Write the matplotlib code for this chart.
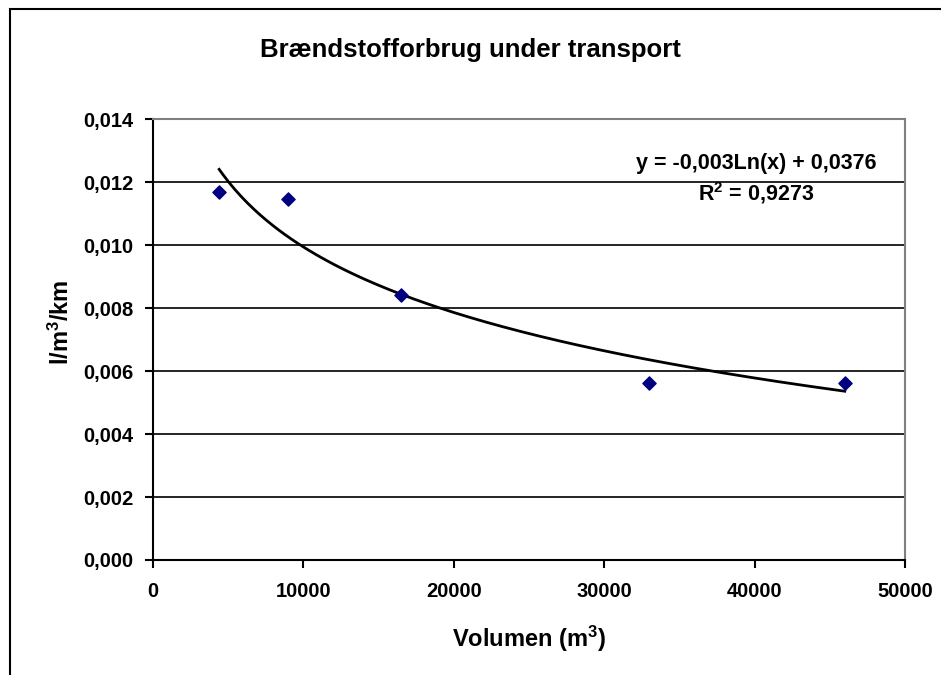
import numpy as np
import matplotlib.pyplot as plt
from matplotlib.patches import Rectangle
from matplotlib.ticker import FuncFormatter, MultipleLocator

# Data
volumen = [4400, 9000, 16500, 33000, 46000]
forbrug = [0.01168, 0.01148, 0.00843, 0.00563, 0.00563]

title = 'Brændstofforbrug under transport'
x_label = 'Volumen (m$^{3}$)'
y_label = 'l/m$^{3}$/km'
eq_label = 'y = -0,003Ln(x) + 0,0376'
r2_label = 'R$^{2}$ = 0,9273'

plt.rcParams['font.family'] = ['Liberation Sans', 'DejaVu Sans']
plt.rcParams['font.weight'] = 'bold'
plt.rcParams['mathtext.default'] = 'regular'

fig = plt.figure(figsize=(9.41, 6.75), dpi=100)
ax = fig.add_axes([0.1626, 0.1704, 0.7991, 0.6526])

# Logarithmic trendline, fitted like Excel does
x = np.array(volumen, dtype=float)
y = np.array(forbrug)
slope, intercept = np.polyfit(np.log(x), y, 1)
xs = np.linspace(x.min(), x.max(), 200)
ax.plot(xs, slope * np.log(xs) + intercept, color='black', lw=2, zorder=3)

ax.scatter(x, y, marker='D', s=45, color='#000080', zorder=4)

ax.set_xlim(0, 50000)
ax.set_ylim(0, 0.014)
ax.xaxis.set_major_locator(MultipleLocator(10000))
ax.yaxis.set_major_locator(MultipleLocator(0.002))
ax.yaxis.set_major_formatter(FuncFormatter(lambda v, p: f'{v:.3f}'.replace('.', ',')))
ax.grid(axis='y', color='black', lw=1.2)
ax.set_axisbelow(True)

for side in ['left', 'bottom']:
    ax.spines[side].set_color('black')
    ax.spines[side].set_linewidth(1.5)
for side in ['right', 'top']:
    ax.spines[side].set_color('#808080')
    ax.spines[side].set_linewidth(1.5)

ax.tick_params(direction='out', length=6, width=1.5, labelsize=14.5)
ax.tick_params(axis='y', pad=8)
ax.tick_params(axis='x', pad=10)
for lbl in ax.get_xticklabels() + ax.get_yticklabels():
    lbl.set_fontweight('bold')

ax.set_xlabel(x_label, fontsize=17, fontweight='bold')
ax.xaxis.set_label_coords(0.5, -0.144)
ax.set_ylabel(y_label, fontsize=17, fontweight='bold')
ax.yaxis.set_label_coords(-0.105, 0.54)
fig.text(0.5, 0.926, title, ha='center', va='center', fontsize=18.5, fontweight='bold')

ax.text(40100, 0.0126, eq_label, ha='center', va='center', fontsize=15.5, fontweight='bold')
ax.text(40100, 0.01165, r2_label, ha='center', va='center', fontsize=15.5, fontweight='bold')

# Outer chart border (cropped at right and bottom)
fig.patches.append(Rectangle((10 / 941, -0.1), 1.2, 0.9867 + 0.1, transform=fig.transFigure,
                             fill=False, edgecolor='black', lw=1.5))

fig.savefig('out.png', dpi=100)
